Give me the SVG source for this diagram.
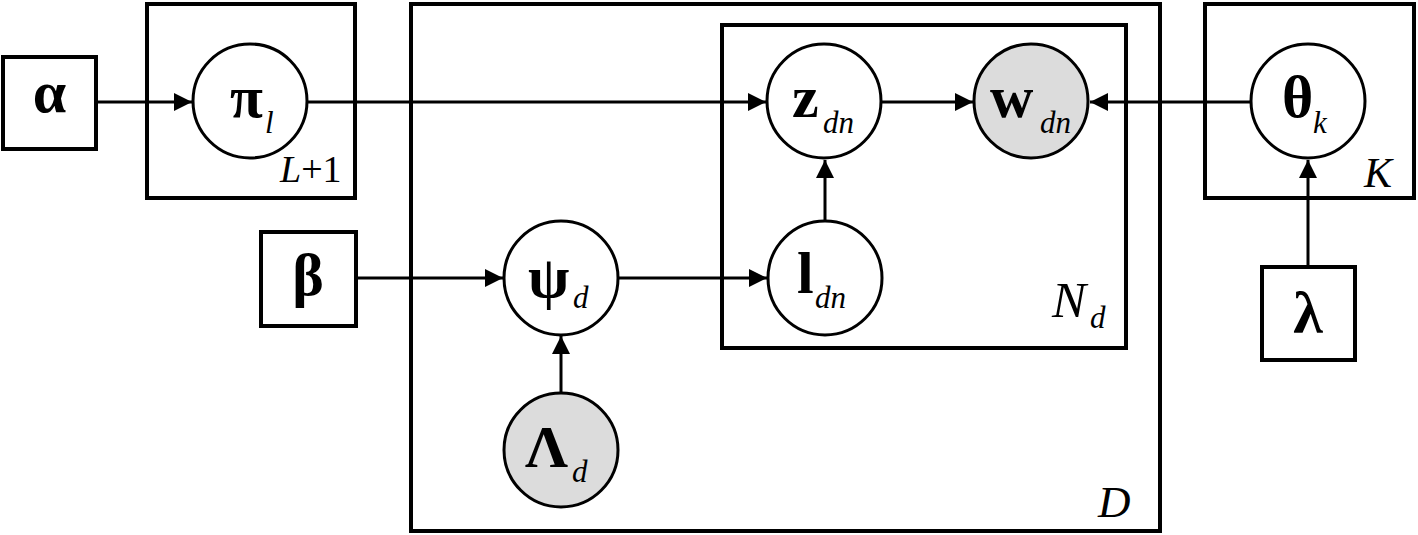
<svg xmlns="http://www.w3.org/2000/svg" width="1418" height="535" viewBox="0 0 1418 535">
<style>
.plate{fill:none;stroke:#000;stroke-width:4}
.box{fill:#fff;stroke:#000;stroke-width:4}
.node{fill:#fff;stroke:#000;stroke-width:3}
.obs{fill:#dcdcdc;stroke:#000;stroke-width:3}
.edge{fill:none;stroke:#000;stroke-width:3;marker-end:url(#ah)}
text{font-family:'Liberation Serif','Times New Roman','DejaVu Serif',serif;fill:#000}
.sym{font-weight:bold;font-size:60px}
.sub{font-style:italic;font-size:31px}
.lab{font-size:38px}
.labK{font-size:42px;font-style:italic}
.labN{font-size:51px;font-style:italic}
.labD{font-size:45px;font-style:italic}
</style>
<defs>
<marker id="ah" markerUnits="userSpaceOnUse" markerWidth="18" markerHeight="18" refX="18" refY="9" orient="auto">
<path d="M0,0 L18,9 L0,18 z" fill="#000"/>
</marker>
</defs>
<rect x="0" y="0" width="1418" height="535" fill="#fff"/>
<g id="plate-L1">
<rect class="plate" x="147" y="4" width="208" height="194"/>
<text class="lab" x="280" y="182"><tspan font-style="italic">L</tspan>+1</text>
</g>
<g id="plate-D">
<rect class="plate" x="411" y="4" width="749" height="527"/>
<text class="labD" x="1098" y="517">D</text>
</g>
<g id="plate-Nd">
<rect class="plate" x="722" y="25" width="404" height="323"/>
<text class="labN" x="1052" y="317">N</text>
<text class="sub" x="1090" y="328">d</text>
</g>
<g id="plate-K">
<rect class="plate" x="1205" y="4" width="209" height="194"/>
<text class="labK" x="1364" y="187">K</text>
</g>
<g id="connectors">
<line class="edge" x1="96" y1="102" x2="192" y2="102"/>
<line class="edge" x1="308" y1="102" x2="766" y2="102"/>
<line class="edge" x1="882" y1="102" x2="973" y2="102"/>
<line class="edge" x1="1250" y1="102" x2="1090" y2="102"/>
<line class="edge" x1="1308" y1="267" x2="1308" y2="160"/>
<line class="edge" x1="356" y1="278" x2="503" y2="278"/>
<line class="edge" x1="619" y1="278" x2="767" y2="278"/>
<line class="edge" x1="825" y1="220" x2="825" y2="160"/>
<line class="edge" x1="561" y1="393" x2="561" y2="336"/>
</g>
<g id="alpha">
<rect class="box" x="3" y="57" width="93" height="92"/>
<text class="sym" x="49.5" y="112" text-anchor="middle">α</text>
</g>
<g id="beta">
<rect class="box" x="261" y="232" width="95" height="94"/>
<text class="sym" x="308" y="295" text-anchor="middle">β</text>
</g>
<g id="lambda">
<rect class="box" x="1262" y="267" width="93" height="93"/>
<text class="sym" x="1308" y="333" text-anchor="middle">λ</text>
</g>
<g id="pi">
<circle class="node" cx="250" cy="101" r="57"/>
<text class="sym" x="230" y="117">π</text>
<text class="sub" x="265" y="133">l</text>
</g>
<g id="z">
<circle class="node" cx="824" cy="101" r="57"/>
<text class="sym" x="792" y="117">z</text>
<text class="sub" x="823" y="133">dn</text>
</g>
<g id="w">
<circle class="obs" cx="1031" cy="101" r="57"/>
<text class="sym" x="990" y="117">w</text>
<text class="sub" x="1040" y="133">dn</text>
</g>
<g id="theta">
<circle class="node" cx="1308" cy="101" r="57"/>
<text class="sym" x="1282" y="117">θ</text>
<text class="sub" x="1313" y="133">k</text>
</g>
<g id="psi">
<circle class="node" cx="561" cy="278" r="57"/>
<text class="sym" x="528" y="297">ψ</text>
<text class="sub" x="573" y="308">d</text>
</g>
<g id="l">
<circle class="node" cx="825" cy="278" r="57"/>
<text class="sym" x="797" y="293">l</text>
<text class="sub" x="815" y="308">dn</text>
</g>
<g id="Lambda">
<circle class="obs" cx="561" cy="450" r="57"/>
<text class="sym" x="525" y="467">Λ</text>
<text class="sub" x="572" y="482">d</text>
</g>
</svg>
